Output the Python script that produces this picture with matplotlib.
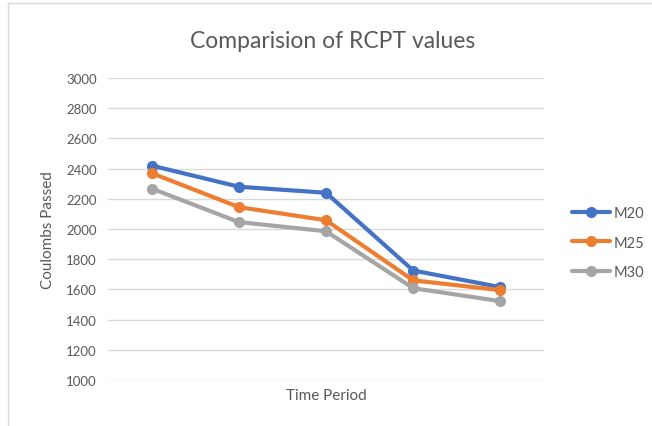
import matplotlib
matplotlib.use("Agg")
import matplotlib.pyplot as plt
from matplotlib.patches import Rectangle

plt.rcParams['font.family'] = ['Lato', 'DejaVu Sans']

periods = [1, 2, 3, 4, 5]
series_names = ["M20", "M25", "M30"]
m20 = [2420, 2280, 2240, 1725, 1615]
m25 = [2370, 2145, 2058, 1660, 1595]
m30 = [2268, 2046, 1985, 1608, 1522]
colors = ["#4472C4", "#ED7D31", "#A5A5A5"]
yticks = list(range(1000, 3001, 200))

fig = plt.figure(figsize=(6.52, 4.27), dpi=100)
fig.patches.append(Rectangle((8/652, -0.1), 1.0, 1 - 4/427 + 0.1, transform=fig.transFigure,
                             fill=False, edgecolor="#d9d9d9", linewidth=1))
ax = fig.add_axes([108/652, 1 - 381/427, (544 - 108)/652, (381 - 79)/427])

for name, vals, c in zip(series_names, [m20, m25, m30], colors):
    ax.plot(periods, vals, color=c, linewidth=3, marker='o', markersize=7, label=name,
            solid_capstyle='round', solid_joinstyle='round')

ax.set_ylim(1000, 3000)
ax.set_xlim(0.5, 5.5)
ax.set_yticks(yticks)
ax.set_yticklabels([str(v) for v in yticks], fontsize=9.5, color="#595959")
ax.set_xticks([])
ax.tick_params(axis='y', length=0, pad=8)
ax.grid(axis='y', color="#d9d9d9", linewidth=1)
ax.set_axisbelow(True)
for s in ax.spines.values():
    s.set_visible(False)

ax.set_xlabel("Time Period", fontsize=11, color="#595959", labelpad=6)
ax.set_ylabel("Coulombs Passed", fontsize=11, color="#595959", labelpad=8)
fig.text(333/652, 1 - 42/427, "Comparision of RCPT values", ha='center', va='center',
         fontsize=16.5, color="#595959")

leg = ax.legend(loc='center left', bbox_to_anchor=(1.035, 0.455), frameon=False,
                fontsize=10.5, labelcolor="#595959", handlelength=2.6, labelspacing=1.05,
                handletextpad=0.2)

fig.savefig("out.png", dpi=100)
